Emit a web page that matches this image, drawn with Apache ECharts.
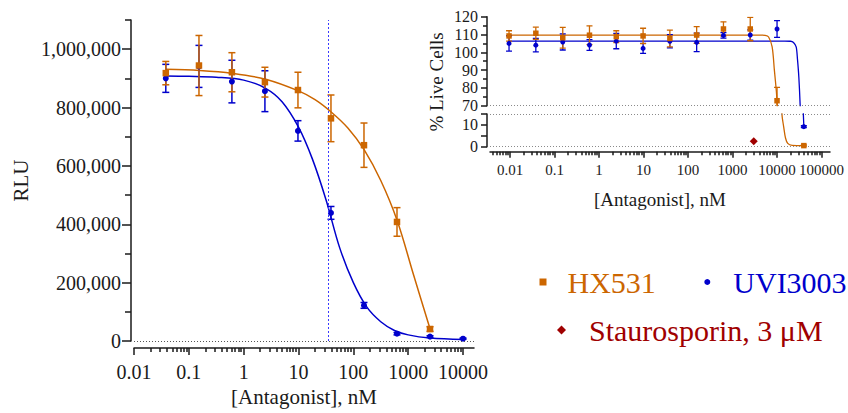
<!DOCTYPE html>
<html>
<head>
<meta charset="utf-8">
<style>
  html, body { margin: 0; padding: 0; background: #fff; }
  #chart { width: 848px; height: 413px; }
</style>
<script src="https://cdn.jsdelivr.net/npm/echarts@6.0.0/dist/echarts.min.js"></script>
</head>
<body>
<div id="chart"></div>
<script>
(function () {
  'use strict';

  // ---- Main plot: RLU vs antagonist (4-fold dilutions) ----
  var rluConc = [0.038, 0.153, 0.61, 2.44, 9.77, 39.06, 156.25, 625, 2500, 10000];
  var rluHX531 = [918000, 944000, 921000, 887000, 860000, 763000, 671000, 408000, 41000, null];
  var rluHX531Sd = [40000, 103000, 67000, 51000, 61000, 80000, 76000, 49000, 8000, null];
  var rluUVI = [900000, 941000, 889000, 856000, 720000, 439000, 122000, 25000, 15000, 8000];
  var rluUVISd = [48000, 72000, 73000, 70000, 35000, 22000, 10000, 4000, 3000, 2000];

  // fitted curves
  var hxFitConc = [0.038, 0.158, 0.631, 2.51, 10, 20, 39.8, 79.4, 158, 316, 631, 1259, 2500];
  var hxFit = [931000, 927000, 917000, 897000, 857000, 827000, 784000, 730000, 655000, 550000, 412000, 225000, 42000];
  var uviFitConc = [0.038, 0.1, 0.316, 1, 2.51, 5.01, 10, 17.8, 31.6, 56.2, 100, 178, 316, 562, 1000, 2512, 10000];
  var uviFit = [908000, 907000, 904000, 894000, 866000, 820000, 733000, 625000, 485000, 320000, 200000, 115000, 66000, 36000, 21000, 10000, 5000];
  var ic50Line = 34.3;

  var mainXTicks = [0.01, 0.1, 1, 10, 100, 1000, 10000];
  var mainYTicks = [0, 200000, 400000, 600000, 800000, 1000000];
  var mainYMinor = [100000, 300000, 500000, 700000, 900000, 1100000];

  // ---- Inset: % live cells ----
  var cellConc = [0.0095, 0.038, 0.153, 0.61, 2.44, 9.77, 39.06, 156.25, 625, 2500, 10000, 40000];
  var cellHX531 = [109.2, 110.7, 108.2, 109.6, 108.8, 109.2, 107.8, 109.7, 113.1, 113.1, 72.8, 0.5];
  var cellHX531Sd = [2.9, 3.4, 5.8, 5.3, 3.3, 4.3, 4.7, 4.7, 4.0, 6.6, 7.5, 0.3];
  var cellUVI = [105.0, 104.0, 105.8, 104.1, 106.3, 102.2, 106.2, 105.6, 109.5, 109.7, 113.1, 9.2];
  var cellUVISd = [4.3, 3.8, 4.5, 3.0, 4.3, 2.8, 3.7, 5.2, 1.5, 2.9, 4.7, 0.4];
  var stauroConc = [3000];
  var stauroCell = [2.5];

  var hxCellFitConc = [0.0095, 10, 1000, 4000, 5400, 6460, 7760, 8710, 9660, 10000, 10300, 12880, 14130, 15490, 17380, 21880, 40000];
  var hxCellFit = [109.7, 109.7, 109.7, 109.7, 109.5, 108.6, 103, 90, 78, 72, 66, 15, 9, 4, 1.5, 0.6, 0.5];
  var uviCellFitConc = [0.0095, 10, 1000, 15000, 20000, 23400, 26900, 28800, 30900, 33100, 35500, 38500, 40000];
  var uviCellFit = [106.3, 106.3, 106.3, 106.3, 106.2, 105.5, 103, 96, 86, 70, 45, 18, 9.5];

  var insetXTicks = [0.01, 0.1, 1, 10, 100, 1000, 10000, 100000];
  var insetUpperTicks = [70, 80, 90, 100, 110, 120];
  var insetLowerTicks = [0, 5, 10, 15];
  var insetLowerLabels = [0, 10];

  var ORANGE = '#CC6600';
  var BLUE = '#0000CC';
  var DARKRED = '#A00000';
  var INK = '#1a1a1a';
  var FONT = '"Liberation Serif", "Times New Roman", serif';

  function lg(v) { return Math.log10(v); }

  function points(conc, vals) {
    var out = [];
    conc.forEach(function (c, i) {
      if (vals[i] != null) out.push([lg(c), vals[i]]);
    });
    return out;
  }

  function bars(conc, vals, sd) {
    var out = [];
    conc.forEach(function (c, i) {
      if (vals[i] != null && sd[i] != null) out.push([lg(c), vals[i] - sd[i], vals[i] + sd[i]]);
    });
    return out;
  }

  // minor log ticks (2..9 per decade) inside [lo, hi] (log units)
  function minorLogTicks(lo, hi) {
    var out = [];
    for (var d = Math.floor(lo) - 1; d <= Math.ceil(hi); d++) {
      for (var m = 2; m <= 9; m++) {
        var v = d + lg(m);
        if (v > lo && v < hi) out.push(v);
      }
    }
    return out;
  }

  function decadeLabel(ticks) {
    return function (v) {
      for (var i = 0; i < ticks.length; i++) {
        if (Math.abs(lg(ticks[i]) - v) < 1e-6) return String(ticks[i]);
      }
      return '';
    };
  }

  function errorBars(cap, width) {
    return function (params, api) {
      var x = api.value(0);
      var lo = api.coord([x, api.value(1)]);
      var hi = api.coord([x, api.value(2)]);
      var style = { stroke: api.visual('color'), lineWidth: width, fill: null };
      return {
        type: 'group',
        children: [
          { type: 'line', shape: { x1: lo[0], y1: lo[1], x2: hi[0], y2: hi[1] }, style: style },
          { type: 'line', shape: { x1: hi[0] - cap, y1: hi[1], x2: hi[0] + cap, y2: hi[1] }, style: style },
          { type: 'line', shape: { x1: lo[0] - cap, y1: lo[1], x2: lo[0] + cap, y2: lo[1] }, style: style }
        ]
      };
    };
  }

  var MAIN_X = [-2, 4.2];
  var MAIN_Y = [0, 1100000];
  var INSET_X = [-2.45, 5.19];

  var axisLineStyle = { color: INK, width: 1.5 };
  var tickStyle = { color: INK, width: 1.5 };

  var chart = echarts.init(document.getElementById('chart'), null, { renderer: 'svg' });

  var option = {
    animation: false,
    backgroundColor: '#fff',
    textStyle: { fontFamily: FONT },
    grid: [
      { left: 134, top: 20, width: 340, height: 321 },
      { left: 490, top: 16.7, width: 340, height: 89 },
      { left: 490, top: 114, width: 340, height: 32.7 }
    ],
    xAxis: [
      {
        type: 'value', gridIndex: 0, position: 'bottom', min: MAIN_X[0], max: MAIN_X[1], offset: 7,
        axisLine: { onZero: false, lineStyle: axisLineStyle },
        axisTick: { length: 7, lineStyle: tickStyle, customValues: mainXTicks.map(lg) },
        axisLabel: {
          customValues: mainXTicks.map(lg), formatter: decadeLabel(mainXTicks),
          fontSize: 20, margin: 14, color: INK, fontFamily: FONT
        },
        splitLine: { show: false },
        name: '[Antagonist], nM', nameLocation: 'middle', nameGap: 36,
        nameTextStyle: { fontSize: 21, color: INK, fontFamily: FONT }
      },
      {
        type: 'value', gridIndex: 0, position: 'bottom', min: MAIN_X[0], max: MAIN_X[1], offset: 7,
        axisLine: { show: false, onZero: false },
        axisTick: { length: 4, lineStyle: tickStyle, customValues: minorLogTicks(MAIN_X[0], MAIN_X[1]) },
        axisLabel: { show: false },
        splitLine: { show: false }
      },
      {
        type: 'value', gridIndex: 1, position: 'bottom', min: INSET_X[0], max: INSET_X[1], show: false,
        axisLine: { onZero: false }, splitLine: { show: false }
      },
      {
        type: 'value', gridIndex: 2, position: 'bottom', min: INSET_X[0], max: INSET_X[1], offset: 5,
        axisLine: { onZero: false, lineStyle: axisLineStyle },
        axisTick: { length: 6, lineStyle: tickStyle, customValues: insetXTicks.map(lg) },
        axisLabel: {
          customValues: insetXTicks.map(lg), formatter: decadeLabel(insetXTicks),
          fontSize: 15, margin: 11, color: INK, fontFamily: FONT
        },
        splitLine: { show: false },
        name: '[Antagonist], nM', nameLocation: 'middle', nameGap: 38,
        nameTextStyle: { fontSize: 19, color: INK, fontFamily: FONT }
      },
      {
        type: 'value', gridIndex: 2, position: 'bottom', min: INSET_X[0], max: INSET_X[1], offset: 5,
        axisLine: { show: false, onZero: false },
        axisTick: { length: 3.5, lineStyle: tickStyle, customValues: minorLogTicks(INSET_X[0], INSET_X[1]) },
        axisLabel: { show: false },
        splitLine: { show: false }
      }
    ],
    yAxis: [
      {
        type: 'value', gridIndex: 0, position: 'left', min: MAIN_Y[0], max: MAIN_Y[1], offset: 3,
        axisLine: { show: true, onZero: false, lineStyle: axisLineStyle },
        axisTick: { show: true, length: 9, lineStyle: tickStyle, customValues: mainYTicks },
        axisLabel: {
          customValues: mainYTicks,
          formatter: function (v) { return v.toLocaleString('en-US'); },
          fontSize: 20, margin: 10, color: INK, fontFamily: FONT
        },
        splitLine: { show: false },
        name: 'RLU', nameLocation: 'middle', nameGap: 100,
        nameTextStyle: { fontSize: 21, color: INK, fontFamily: FONT }
      },
      {
        type: 'value', gridIndex: 0, position: 'left', min: MAIN_Y[0], max: MAIN_Y[1], offset: 3,
        axisLine: { show: false, onZero: false },
        axisTick: { show: true, length: 6, lineStyle: tickStyle, customValues: mainYMinor },
        axisLabel: { show: false },
        splitLine: { show: false }
      },
      {
        type: 'value', gridIndex: 1, position: 'left', min: 70, max: 120, interval: 10, offset: 3,
        axisLine: { show: true, onZero: false, lineStyle: axisLineStyle },
        axisTick: { show: true, length: 6, lineStyle: tickStyle, customValues: insetUpperTicks },
        minorTick: { show: true, splitNumber: 2, length: 4, lineStyle: tickStyle },
        axisLabel: { customValues: insetUpperTicks, fontSize: 16, margin: 9, color: INK, fontFamily: FONT },
        splitLine: { show: false }
      },
      {
        type: 'value', gridIndex: 2, position: 'left', min: 0, max: 15, offset: 3,
        axisLine: { show: true, onZero: false, lineStyle: axisLineStyle },
        axisTick: { show: true, length: 6, lineStyle: tickStyle, customValues: insetLowerTicks },
        axisLabel: { customValues: insetLowerLabels, fontSize: 16, margin: 9, color: INK, fontFamily: FONT },
        splitLine: { show: false }
      }
    ],
    legend: [
      {
        left: 539.5, top: 267, padding: 0, itemWidth: 7, itemHeight: 7, selectedMode: false,
        textStyle: { fontSize: 30, fontFamily: FONT, color: ORANGE, padding: [0, 0, 0, 16] },
        data: [{ name: 'HX531', icon: 'rect' }]
      },
      {
        left: 704.3, top: 267, padding: 0, itemWidth: 6, itemHeight: 6, selectedMode: false,
        textStyle: { fontSize: 30, fontFamily: FONT, color: BLUE, padding: [0, 0, 0, 18] },
        data: [{ name: 'UVI3003', icon: 'circle' }]
      },
      {
        left: 557, top: 315, padding: 0, itemWidth: 9, itemHeight: 9, selectedMode: false,
        textStyle: { fontSize: 30, fontFamily: FONT, color: DARKRED, padding: [0, 0, 0, 18] },
        data: [{ name: 'Staurosporin, 3 \u03bcM', icon: 'diamond' }]
      }
    ],
    graphic: [
      {
        type: 'text', x: 436, y: 82, rotation: Math.PI / 2,
        style: {
          text: '% Live Cells', fontSize: 19, fontFamily: FONT, fill: INK,
          align: 'center', verticalAlign: 'middle'
        }
      }
    ],
    series: []
  };

  var S = option.series;

  // main plot
  S.push({
    name: 'UVI3003 fit', type: 'line', xAxisIndex: 0, yAxisIndex: 0,
    data: points(uviFitConc, uviFit), showSymbol: false, smooth: 0.35,
    lineStyle: { color: BLUE, width: 1.5 }, itemStyle: { color: BLUE }, z: 2,
    markLine: {
      silent: true, symbol: 'none', label: { show: false },
      lineStyle: { color: '#3a3aff', type: [2, 2], width: 1 },
      data: [{ xAxis: lg(ic50Line) }]
    }
  });
  S.push({
    name: 'HX531 fit', type: 'line', xAxisIndex: 0, yAxisIndex: 0,
    data: points(hxFitConc, hxFit), showSymbol: false, smooth: 0.35,
    lineStyle: { color: ORANGE, width: 1.5 }, itemStyle: { color: ORANGE }, z: 2,
    markLine: {
      silent: true, symbol: 'none', label: { show: false },
      lineStyle: { color: '#555', type: [1, 2], width: 1 },
      data: [{ yAxis: 0 }]
    }
  });
  S.push({
    name: 'UVI3003 sd', type: 'custom', xAxisIndex: 0, yAxisIndex: 0, clip: true,
    renderItem: errorBars(3.5, 1.5), itemStyle: { color: BLUE },
    encode: { x: 0, y: [1, 2] }, data: bars(rluConc, rluUVI, rluUVISd), z: 3
  });
  S.push({
    name: 'HX531 sd', type: 'custom', xAxisIndex: 0, yAxisIndex: 0, clip: true,
    renderItem: errorBars(3.5, 1.5), itemStyle: { color: ORANGE },
    encode: { x: 0, y: [1, 2] }, data: bars(rluConc, rluHX531, rluHX531Sd), z: 3
  });
  S.push({
    name: 'UVI3003', type: 'scatter', xAxisIndex: 0, yAxisIndex: 0,
    symbol: 'circle', symbolSize: 6, itemStyle: { color: BLUE, opacity: 1 },
    data: points(rluConc, rluUVI), z: 4
  });
  S.push({
    name: 'HX531', type: 'scatter', xAxisIndex: 0, yAxisIndex: 0,
    symbol: 'rect', symbolSize: 6.5, itemStyle: { color: ORANGE, opacity: 1 },
    data: points(rluConc, rluHX531), z: 5
  });

  // inset, both segments of the broken axis
  [[2, 2], [3, 3]].forEach(function (ax, k) {
    var xi = ax[0], yi = ax[1];
    var guide = k === 0 ? [{ yAxis: 70 }] : [{ yAxis: 15 }, { yAxis: 0 }];
    S.push({
      name: 'UVI3003 cell fit', type: 'line', xAxisIndex: xi, yAxisIndex: yi,
      data: points(uviCellFitConc, uviCellFit), showSymbol: false, smooth: 0.3,
      lineStyle: { color: BLUE, width: 1.3 }, itemStyle: { color: BLUE }, z: 2,
      markLine: {
        silent: true, symbol: 'none', label: { show: false },
        lineStyle: { color: '#8a8a8a', type: [1, 2], width: 1 },
        data: guide
      }
    });
    S.push({
      name: 'HX531 cell fit', type: 'line', xAxisIndex: xi, yAxisIndex: yi,
      data: points(hxCellFitConc, hxCellFit), showSymbol: false, smooth: 0.3,
      lineStyle: { color: ORANGE, width: 1.3 }, itemStyle: { color: ORANGE }, z: 2
    });
    S.push({
      name: 'UVI3003 cell sd', type: 'custom', xAxisIndex: xi, yAxisIndex: yi, clip: true,
      renderItem: errorBars(3, 1.3), itemStyle: { color: BLUE },
      encode: { x: 0, y: [1, 2] }, data: bars(cellConc, cellUVI, cellUVISd), z: 3
    });
    S.push({
      name: 'HX531 cell sd', type: 'custom', xAxisIndex: xi, yAxisIndex: yi, clip: true,
      renderItem: errorBars(3, 1.3), itemStyle: { color: ORANGE },
      encode: { x: 0, y: [1, 2] }, data: bars(cellConc, cellHX531, cellHX531Sd), z: 3
    });
    S.push({
      name: 'UVI3003 cell', type: 'scatter', xAxisIndex: xi, yAxisIndex: yi, clip: true,
      symbol: 'circle', symbolSize: 5, itemStyle: { color: BLUE, opacity: 1 },
      data: points(cellConc, cellUVI), z: 4
    });
    S.push({
      name: 'HX531 cell', type: 'scatter', xAxisIndex: xi, yAxisIndex: yi, clip: true,
      symbol: 'rect', symbolSize: 5.5, itemStyle: { color: ORANGE, opacity: 1 },
      data: points(cellConc, cellHX531), z: 5
    });
  });

  S.push({
    name: 'Staurosporin, 3 \u03bcM', type: 'scatter', xAxisIndex: 3, yAxisIndex: 3,
    symbol: 'diamond', symbolSize: 8, itemStyle: { color: DARKRED, opacity: 1 },
    data: points(stauroConc, stauroCell), z: 5
  });

  chart.setOption(option);
})();
</script>
</body>
</html>
